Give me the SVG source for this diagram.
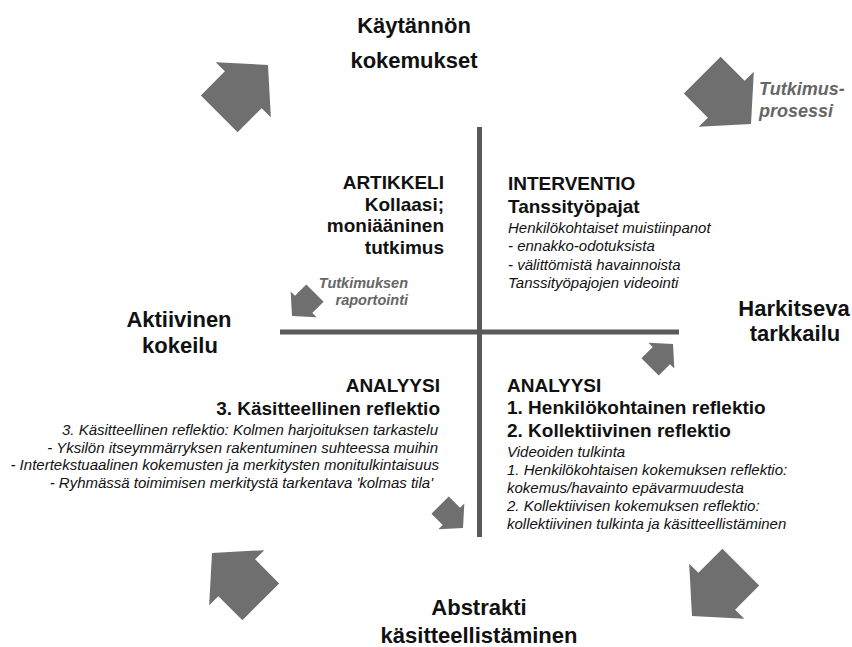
<svg xmlns="http://www.w3.org/2000/svg" xmlns:xlink="http://www.w3.org/1999/xlink" width="852" height="647" viewBox="0 0 852 647">
<style>
text{font-family:"Liberation Sans",Arial,sans-serif;fill:#111}
.h{font-size:22px;font-weight:bold;text-anchor:middle}
.b{font-size:19px;font-weight:bold}
.i{font-size:15px;font-style:italic}
.g{font-weight:bold;font-style:italic;fill:#666}
.e{text-anchor:end}
.arr{fill:#6f6f6f}
.ax{stroke:#5a5a5a;stroke-width:5}
</style>
<defs>
<path id="ar" class="arr" d="M0,0 L-35,-39 L-35,-26 L-69,-26 L-69,26 L-35,26 L-35,39 Z"/>
</defs>
<rect width="852" height="647" fill="#fff"/>
<g id="connectors">
<line class="ax" x1="479.5" y1="127" x2="479.5" y2="537"/>
<line class="ax" x1="280" y1="332" x2="679" y2="332"/>
<use xlink:href="#ar" href="#ar" transform="translate(268,65) rotate(-45)"/>
<use xlink:href="#ar" href="#ar" transform="translate(751,124) rotate(45)"/>
<use xlink:href="#ar" href="#ar" transform="translate(692,616) rotate(135)"/>
<use xlink:href="#ar" href="#ar" transform="translate(212,553) rotate(-135)"/>
<use xlink:href="#ar" href="#ar" transform="translate(292,316) rotate(135) scale(0.47)"/>
<use xlink:href="#ar" href="#ar" transform="translate(673,344) rotate(-45) scale(0.47)"/>
<use xlink:href="#ar" href="#ar" transform="translate(463,528) rotate(45) scale(0.47)"/>
</g>
<g id="kaytannon">
<text class="h" x="414" y="33">Käytännön</text>
<text class="h" x="414" y="68">kokemukset</text>
</g>
<g id="harkitseva">
<text class="h" x="794" y="316">Harkitseva</text>
<text class="h" x="795" y="341">tarkkailu</text>
</g>
<g id="abstrakti">
<text class="h" x="479" y="615">Abstrakti</text>
<text class="h" x="479" y="643">käsitteellistäminen</text>
</g>
<g id="aktiivinen">
<text class="h" x="179" y="327">Aktiivinen</text>
<text class="h" x="180" y="353">kokeilu</text>
</g>
<g id="tutkimusprosessi">
<text class="g" x="759" y="95" font-size="18">Tutkimus-</text>
<text class="g" x="759" y="117" font-size="18">prosessi</text>
</g>
<g id="raportointi">
<text class="g e" x="408" y="288" font-size="14.5">Tutkimuksen</text>
<text class="g e" x="408" y="305" font-size="14.5">raportointi</text>
</g>
<g id="artikkeli">
<text class="b e" x="444" y="189">ARTIKKELI</text>
<text class="b e" x="444" y="210.5">Kollaasi;</text>
<text class="b e" x="444" y="232">moniääninen</text>
<text class="b e" x="444" y="253.5">tutkimus</text>
</g>
<g id="interventio">
<text class="b" x="508" y="190">INTERVENTIO</text>
<text class="b" x="508" y="213">Tanssityöpajat</text>
<text class="i" x="508" y="233">Henkilökohtaiset muistiinpanot</text>
<text class="i" x="508" y="251">- ennakko-odotuksista</text>
<text class="i" x="508" y="270">- välittömistä havainnoista</text>
<text class="i" x="508" y="288">Tanssityöpajojen videointi</text>
</g>
<g id="analyysi3">
<text class="b e" x="440" y="392">ANALYYSI</text>
<text class="b e" x="440" y="415">3. Käsitteellinen reflektio</text>
<text class="i e" x="438" y="435">3. Käsitteellinen reflektio: Kolmen harjoituksen tarkastelu</text>
<text class="i e" x="438" y="452.5">- Yksilön itseymmärryksen rakentuminen suhteessa muihin</text>
<text class="i e" x="439" y="470">- Intertekstuaalinen kokemusten ja merkitysten monitulkintaisuus</text>
<text class="i e" x="433" y="487.5">- Ryhmässä toimimisen merkitystä tarkentava 'kolmas tila'</text>
</g>
<g id="analyysi12">
<text class="b" x="507" y="392">ANALYYSI</text>
<text class="b" x="507" y="414">1. Henkilökohtainen reflektio</text>
<text class="b" x="507" y="437">2. Kollektiivinen reflektio</text>
<text class="i" x="507" y="457">Videoiden tulkinta</text>
<text class="i" x="507" y="475">1. Henkilökohtaisen kokemuksen reflektio:</text>
<text class="i" x="507" y="493">kokemus/havainto epävarmuudesta</text>
<text class="i" x="507" y="511">2. Kollektiivisen kokemuksen reflektio:</text>
<text class="i" x="507" y="529">kollektiivinen tulkinta ja käsitteellistäminen</text>
</g>
</svg>
